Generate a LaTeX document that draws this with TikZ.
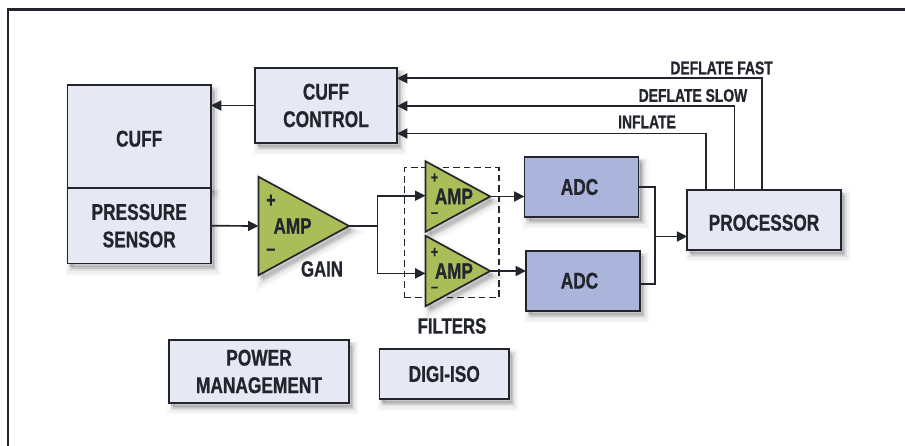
\documentclass[tikz,border=0pt]{standalone}
\usepackage{xcolor}
\usepackage{fontspec}
\setmainfont{Liberation Sans}[FakeStretch=0.76, BoldFeatures={FakeBold=0.8}]
\usepackage{tikz}
\usetikzlibrary{shapes.geometric,shadows,arrows.meta,positioning,calc}

\definecolor{boxfill}{HTML}{E6E9F4}
\definecolor{adcfill}{HTML}{ABB4DA}
\definecolor{ampfill}{HTML}{ABBD58}
\definecolor{inkline}{HTML}{23252D}

\begin{document}
\begin{tikzpicture}[
    softshadow/.style={
        general shadow={shadow xshift=0.10cm, shadow yshift=-0.15cm, fill=black, draw=black, line width=9pt, opacity=0.02},
        general shadow={shadow xshift=0.10cm, shadow yshift=-0.15cm, fill=black, draw=black, line width=6pt, opacity=0.04},
        general shadow={shadow xshift=0.10cm, shadow yshift=-0.13cm, fill=black, draw=black, line width=3pt, opacity=0.07},
        general shadow={shadow xshift=0.06cm, shadow yshift=-0.08cm, fill=black, draw=black, line width=1pt, opacity=0.08}},
    block/.style={rectangle, draw=inkline, fill=boxfill, line width=1.2pt, outer sep=0pt, inner sep=0pt, align=center, text=inkline, softshadow,
        font=\bfseries\fontsize{16.2}{19.5}\selectfont},
    adcblock/.style={block, fill=adcfill},
    amp/.style={isosceles triangle, isosceles triangle stretches, shape border rotate=0, draw=inkline, fill=ampfill, line width=1.2pt, outer sep=0pt, inner sep=0pt, text=inkline,
        softshadow, anchor=lower side, font=\bfseries\fontsize{16}{19}\selectfont},
    gainamp/.style={amp, minimum width=2.4625cm, minimum height=2.2625cm},
    filteramp/.style={amp, minimum width=1.7625cm, minimum height=1.6125cm},
    gainsign/.style={inner sep=0pt, text=inkline, font=\bfseries\fontsize{15}{17}\selectfont},
    filtersign/.style={inner sep=0pt, text=inkline, font=\bfseries\fontsize{11.5}{13}\selectfont},
    caption/.style={inner sep=0pt, text=inkline, font=\bfseries\fontsize{15.7}{18}\selectfont},
    signal/.style={inner sep=0pt, text=inkline, font=\bfseries\fontsize{13}{15}\selectfont},
    wire/.style={line width=1.2pt, draw=inkline},
    arrow/.style={wire, -{Triangle[length=0.26cm, width=0.25cm]}}
]
    \useasboundingbox (0,0) rectangle (22.625,11.15);

    % outer frame, cut by the page on two sides
    \coordinate (framefoot) at (0.2,0);
    \coordinate (frameend) at (22.625,10.9125);
    \draw[line width=1.5pt, draw=inkline] (framefoot) |- (frameend);

    \node[draw=inkline, line width=1.1pt, dash pattern=on 4.7pt off 2.8pt, minimum width=2.3575cm, minimum height=3.25cm] (filterbox) at (11.296,5.3325) {};

    \node[block, minimum width=3.5875cm, minimum height=2.575cm, text height=14.5pt] (cuff) at (3.48,7.7375) {CUFF};
    \node[block, below=0cm of cuff, minimum width=3.5875cm, minimum height=1.8875cm] (sensor) {PRESSURE\\SENSOR};
    \node[block, minimum width=3.55cm, minimum height=1.875cm] (control) at (8.15,8.5125) {CUFF\\CONTROL};
    \node[gainamp] (gain) at (6.4625,5.5) {\hspace*{0.1cm}AMP};
    \node[filteramp] (filtera) at (10.6375,6.2375) {\hspace*{0.2cm}AMP};
    \node[filteramp] (filterb) at (10.6375,4.375) {\hspace*{0.2cm}AMP};
    \node[adcblock, minimum width=2.85cm, minimum height=1.5cm] (adca) at (14.5375,6.475) {\hspace*{-0.1cm}ADC};
    \node[adcblock, minimum width=2.85cm, minimum height=1.5cm] (adcb) at (14.575,4.131) {\hspace*{-0.175cm}ADC};
    \node[block, minimum width=3.835cm, minimum height=1.5cm, text height=15.2pt] (processor) at (19.1,5.65) {PROCESSOR};
    \node[block, minimum width=4.5cm, minimum height=1.575cm] (power) at (6.475,1.8625) {POWER\\MANAGEMENT};
    \node[block, minimum width=3.2375cm, minimum height=1.25cm] (digiiso) at (11.106,1.8) {DIGI-ISO};

    \node[gainsign] (gainplus) at ($(gain.lower side)+(0.31,0.625)$) {+};
    \node[gainsign] (gainminus) at ($(gain.lower side)+(0.31,-0.65)$) {--};
    \node[filtersign] (filteraplus) at ($(filtera.lower side)+(0.225,0.46)$) {+};
    \node[filtersign] (filteraminus) at ($(filtera.lower side)+(0.225,-0.46)$) {--};
    \node[filtersign] (filterbplus) at ($(filterb.lower side)+(0.225,0.46)$) {+};
    \node[filtersign] (filterbminus) at ($(filterb.lower side)+(0.225,-0.46)$) {--};

    \node[caption] (gainlabel) at (8.05,4.425) {GAIN};
    \node[caption] (filterslabel) at (11.3,3.0) {FILTERS};
    \node[signal] (fastlabel) at (18.04,9.45) {DEFLATE FAST};
    \node[signal] (slowlabel) at (17.325,8.7625) {DEFLATE SLOW};
    \node[signal] (inflatelabel) at (16.175,8.1) {INFLATE};

    \coordinate (branch) at (9.4375,5.5);
    \coordinate (merge) at (16.375,5.2375);
    \coordinate (inflateturn) at (17.6425,7.8125);
    \coordinate (slowturn) at (18.3625,8.5);
    \coordinate (fastturn) at (19.05,9.1925);

    \draw[arrow] (control.west) -- (control.west -| cuff.east);
    \draw[arrow] (sensor.east) -- (gain.lower side);
    \draw[wire] (gain.apex) -- (branch);
    \draw[arrow] (branch) |- ($(filtera.lower side)+(0,0.02)$);
    \draw[arrow] (branch) |- ($(filterb.lower side)+(0,-0.06)$);
    \draw[arrow] (filtera.apex) -- (filtera.apex -| adca.west);
    \draw[arrow] (filterb.apex) -- (filterb.apex -| adcb.west);
    \draw[wire] (adca.east) -| (merge);
    \draw[wire] ($(adcb.east)+(0,-0.08)$) -| (merge);
    \draw[arrow] (merge) -- (merge -| processor.west);
    \draw[arrow] (inflateturn |- processor.north) -- (inflateturn) -- (inflateturn -| control.east);
    \draw[arrow] (slowturn |- processor.north) -- (slowturn) -- (slowturn -| control.east);
    \draw[arrow] (fastturn |- processor.north) -- (fastturn) -- (fastturn -| control.east);
\end{tikzpicture}
\end{document}
